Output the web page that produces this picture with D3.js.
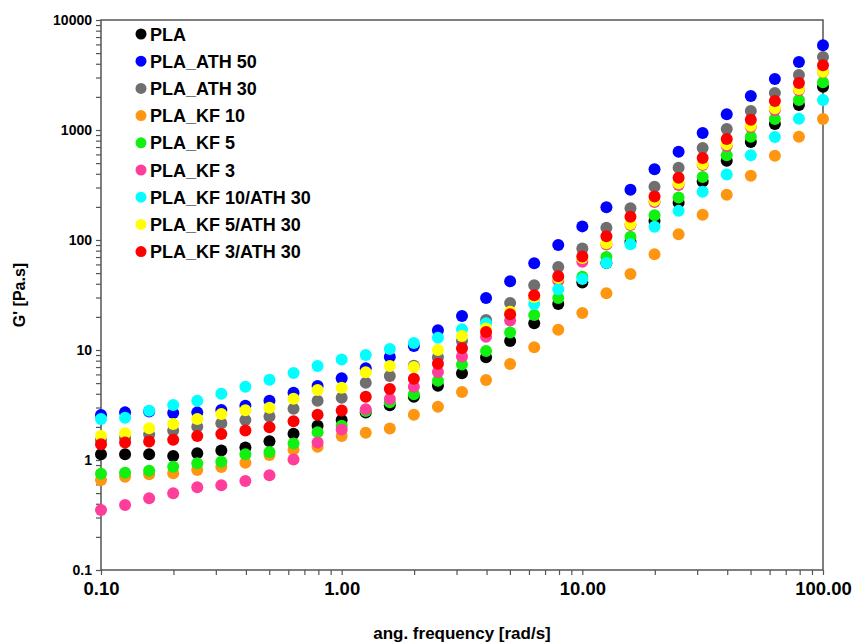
<!DOCTYPE html>
<html><head><meta charset="utf-8">
<script src="https://cdn.jsdelivr.net/npm/d3@7"></script>
<style>
body{margin:0;background:#fff}
text{font-family:"Liberation Sans",Arial,sans-serif;font-weight:bold;fill:#000}
</style>
</head><body>
<svg id="chart" width="853" height="644"></svg>
<script>
// angular frequency [rad/s]
const freq = [0.1,0.1259,0.1585,0.1995,0.2512,0.3162,0.3981,0.5012,0.631,0.7943,
  1,1.259,1.585,1.995,2.512,3.162,3.981,5.012,6.31,7.943,
  10,12.59,15.85,19.95,25.12,31.62,39.81,50.12,63.1,79.43,100];

const seriesNames = ["PLA","PLA_ATH 50","PLA_ATH 30","PLA_KF 10","PLA_KF 5","PLA_KF 3",
  "PLA_KF 10/ATH 30","PLA_KF 5/ATH 30","PLA_KF 3/ATH 30"];
const seriesColors = ["#000000","#0000ff","#6f6f6f","#ff9612","#11f011","#ff3d9a",
  "#00ffff","#ffff00","#ff0000"];

const PLA = [1.13,1.13,1.13,1.09,1.15,1.22,1.30,1.48,1.73,2.05,
  2.31,2.70,3.14,3.76,4.73,6.14,8.58,12.1,17.5,26.2,
  41.1,61.8,96.5,149,218,340,526,778,1135,1687,2476];
const PLA_ATH50 = [2.57,2.71,2.76,2.68,2.71,2.85,3.12,3.46,4.09,4.71,
  5.53,6.82,8.64,10.9,15.1,20.4,29.7,42.1,61.4,90.1,
  133,198,287,439,635,939,1389,2037,2910,4151,5890];
const PLA_ATH30 = [1.52,1.585,1.71,1.85,2.01,2.16,2.31,2.48,2.93,3.46,
  3.68,5.04,5.80,7.20,8.58,12.1,18.7,26.7,38.7,56.8,
  83.7,129,194,305,454,686,1021,1489,2170,3162,4611];
const PLA_KF10 = [0.658,0.705,0.741,0.757,0.811,0.864,0.945,1.11,1.24,1.32,
  1.65,1.77,1.93,2.58,3.05,4.15,5.34,7.46,10.6,15.3,
  21.7,32.8,49.1,74.1,113,170,258,384,584,869,1259];
const PLA_KF5 = [0.751,0.766,0.80,0.869,0.933,0.965,1.13,1.18,1.41,1.79,
  2.05,2.79,3.35,3.96,5.26,7.38,9.79,14.4,20.8,29.7,
  46.4,70.0,107,168,244,374,589,869,1259,1874,2715];
const PLA_KF3 = [0.351,0.390,0.449,0.498,0.565,0.589,0.644,0.726,1.01,1.44,
  1.89,2.89,3.59,4.64,6.31,8.73,13.2,18.5,29.7,42.7,
  63.5,91,137,221,316,481,716,1064,1520,2311,3365];
const PLA_KF10_ATH30 = [2.36,2.42,2.81,3.16,3.46,4.01,4.64,5.37,6.18,7.16,
  8.20,9.01,10.2,11.6,12.9,15.4,17.5,21.2,26.2,35.6,
  44.2,61.8,91.4,132,184,275,393,589,864,1267,1874];
const PLA_KF5_ATH30 = [1.65,1.75,1.94,2.12,2.36,2.62,2.83,2.99,3.61,4.33,
  4.54,6.27,7.16,7.00,10.0,13.4,15.7,22.3,30.3,45.2,
  68.6,93.3,140,228,328,491,741,1094,1574,2360,3388];
const PLA_KF3_ATH30 = [1.39,1.44,1.47,1.53,1.65,1.72,1.85,1.98,2.25,2.58,
  2.82,3.76,4.42,5.48,7.50,10.4,14.6,21.1,31.4,46.8,
  70.8,108,163,248,368,556,828,1242,1836,2673,3873];

const xMajorTicks = [0.1,1,10,100];
const xTickLabels = ["0.10","1.00","10.00","100.00"];
const yMajorTicks = [0.1,1,10,100,1000,10000];
const yTickLabels = ["0.1","1","10","100","1000","10000"];
const xTitle = "ang. frequency [rad/s]";
const yTitle = "G' [Pa.s]";

const allSeries = [PLA,PLA_ATH50,PLA_ATH30,PLA_KF10,PLA_KF5,PLA_KF3,PLA_KF10_ATH30,PLA_KF5_ATH30,PLA_KF3_ATH30];

const svg = d3.select("#chart");
const L = 101, R = 823, T = 20, B = 570;
const x = d3.scaleLog().domain([0.1,100]).range([L,R]);
const y = d3.scaleLog().domain([0.1,10000]).range([B,T]);
const axisColor = "#555";

// frame
svg.append("rect").attr("x",L).attr("y",T).attr("width",R-L).attr("height",B-T)
  .attr("fill","none").attr("stroke",axisColor).attr("stroke-width",1.5);

const xAxis = d3.axisBottom(x).tickValues(x.ticks()).tickSize(5).tickPadding(7)
  .tickFormat(v => { const i = xMajorTicks.findIndex(m => Math.abs(v/m-1)<1e-6); return i>=0 ? xTickLabels[i] : ""; });
const gx = svg.append("g").attr("transform",`translate(0,${B})`).call(xAxis);
gx.select(".domain").remove();
gx.selectAll(".tick line").attr("stroke",axisColor).attr("stroke-width",1.2);
gx.selectAll(".tick text").attr("font-size",18.5).attr("fill","#000")
  .style("font-family",'"Liberation Sans",Arial,sans-serif').style("font-weight","bold");

const yAxis = d3.axisLeft(y).tickValues(y.ticks()).tickSize(5).tickPadding(4)
  .tickFormat(v => { const i = yMajorTicks.findIndex(m => Math.abs(v/m-1)<1e-6); return i>=0 ? yTickLabels[i] : ""; });
const gy = svg.append("g").attr("transform",`translate(${L},0)`).call(yAxis);
gy.select(".domain").remove();
gy.selectAll(".tick line").attr("stroke",axisColor).attr("stroke-width",1.2);
gy.selectAll(".tick text").attr("font-size",14).attr("fill","#000")
  .style("font-family",'"Liberation Sans",Arial,sans-serif').style("font-weight","bold");

// axis titles
svg.append("text").attr("x",(L+R)/2).attr("y",639).attr("text-anchor","middle")
  .attr("font-size",17).text(xTitle);
svg.append("text").attr("transform",`translate(25,${(T+B)/2}) rotate(-90)`)
  .attr("text-anchor","middle").attr("font-size",16).text(yTitle);

// points
allSeries.forEach((vals,si) => {
  svg.append("g").selectAll("circle").data(vals).join("circle")
    .attr("cx",(d,i)=>x(freq[i])).attr("cy",d=>y(d)).attr("r",6)
    .attr("fill",seriesColors[si]);
});

// legend
const lg = svg.append("g");
seriesNames.forEach((n,i) => {
  const yy = 34 + i*27.2;
  lg.append("circle").attr("cx",141).attr("cy",yy).attr("r",5.5).attr("fill",seriesColors[i]);
  lg.append("text").attr("x",150).attr("y",yy+6.5).attr("font-size",18).text(n);
});
</script>
</body></html>
